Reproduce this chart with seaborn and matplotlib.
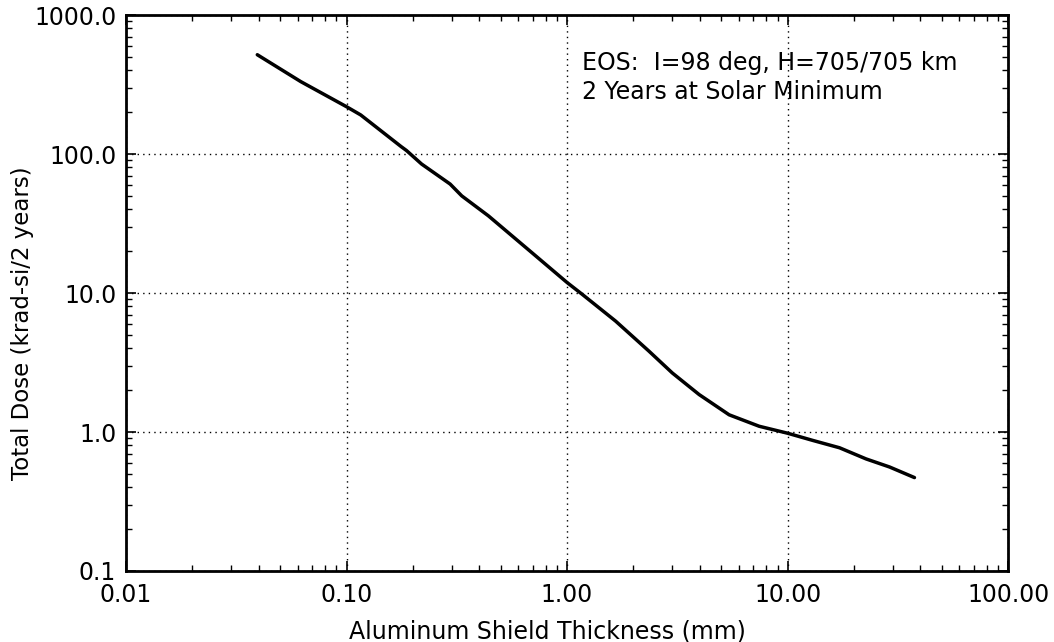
import numpy as np
import pandas as pd
import seaborn as sns
import matplotlib.pyplot as plt
from matplotlib.ticker import LogLocator, NullFormatter

# values (log-log curve)
thickness = [0.0394, 0.062, 0.1, 0.116, 0.177, 0.187, 0.219, 0.295, 0.333, 0.44,
             0.693, 1.0, 1.17, 1.66, 2.35, 3.0, 3.97, 5.43, 7.43, 10.0,
             13.0, 17.2, 22.7, 29.0, 37.6]
dose = [518, 332, 219, 191, 113, 106, 84.7, 60.8, 50.0, 35.9,
        19.5, 11.9, 9.8, 6.28, 3.82, 2.66, 1.86, 1.33, 1.10, 0.98,
        0.87, 0.77, 0.64, 0.56, 0.47]

xticks = [0.01, 0.1, 1, 10, 100]
xtick_labels = ["0.01", "0.10", "1.00", "10.00", "100.00"]
yticks = [0.1, 1, 10, 100, 1000]
ytick_labels = ["0.1", "1.0", "10.0", "100.0", "1000.0"]

df = pd.DataFrame({"thickness": thickness, "dose": dose})

sns.set_style("ticks")
plt.rcParams["font.family"] = ["DejaVu Sans"]
plt.rcParams["text.color"] = "black"
plt.rcParams["axes.labelcolor"] = "black"
plt.rcParams["xtick.color"] = "black"
plt.rcParams["ytick.color"] = "black"

fig = plt.figure(figsize=(10.54, 6.42), dpi=100)
ax = fig.add_axes([0.1195, 0.1106, 0.837, 0.866])

sns.lineplot(data=df, x="thickness", y="dose", color="black", linewidth=2.5, ax=ax)

ax.set_xscale("log")
ax.set_yscale("log")
ax.set_xlim(0.01, 100)
ax.set_ylim(0.1, 1000)

ax.set_xticks(xticks, xtick_labels, fontsize=17)
ax.set_yticks(yticks, ytick_labels, fontsize=17)
ax.xaxis.set_minor_locator(LogLocator(base=10, subs=np.arange(2, 10)))
ax.yaxis.set_minor_locator(LogLocator(base=10, subs=np.arange(2, 10)))
ax.xaxis.set_minor_formatter(NullFormatter())
ax.yaxis.set_minor_formatter(NullFormatter())
ax.tick_params(which="both", direction="in", top=True, right=True, color="black")
ax.tick_params(which="major", length=7, width=1.2)
ax.tick_params(axis="x", which="major", pad=9)
ax.tick_params(axis="y", which="major", pad=7)
ax.tick_params(which="minor", length=4, width=1)

for s in ax.spines.values():
    s.set_linewidth(2)
    s.set_color("black")

ax.grid(True, which="major", linestyle=(0, (1, 3)), color="black", linewidth=1)

ax.set_xlabel("Aluminum Shield Thickness (mm)", fontsize=17)
ax.set_ylabel("Total Dose (krad-si/2 years)", fontsize=16.5)
ax.xaxis.set_label_coords(0.478, -0.108)
ax.yaxis.set_label_coords(-0.117, 0.445)
ax.xaxis.label.set_va("center")
ax.yaxis.label.set_va("center")

ax.text(0.517, 0.935, "EOS:  I=98 deg, H=705/705 km\n2 Years at Solar Minimum",
        transform=ax.transAxes, fontsize=17, va="top", ha="left", linespacing=1.25)

fig.savefig("out.png", dpi=100)
